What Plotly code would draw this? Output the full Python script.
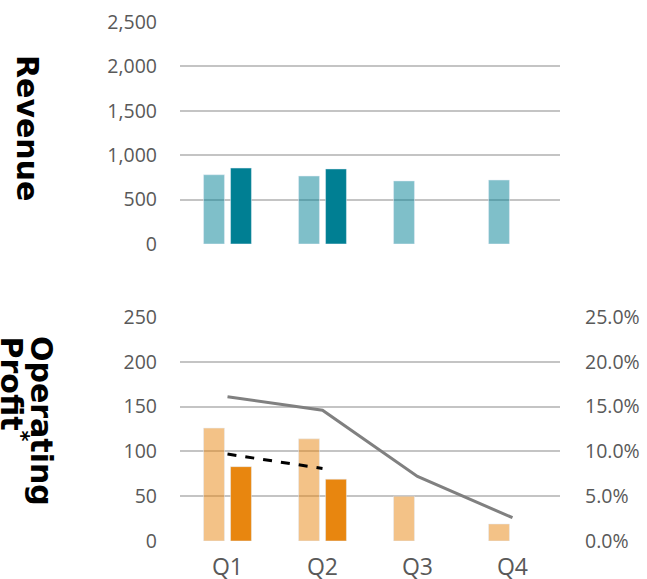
import plotly.graph_objects as go

quarters = ["Q1", "Q2", "Q3", "Q4"]
revenue_prev = [780, 765, 710, 720]
revenue_curr = [855, 845, None, None]
op_prev = [126, 114, 50, 19]
op_curr = [83, 69, None, None]
margin_prev = [0.161, 0.146, 0.072, 0.026]
margin_curr = [0.097, 0.081, None, None]

rev_ticks = [0, 500, 1000, 1500, 2000, 2500]
op_ticks = [0, 50, 100, 150, 200, 250]
pct_ticks = [0, 0.05, 0.10, 0.15, 0.20, 0.25]

TEAL = "rgba(0,127,147,1)"
TEAL_L = "rgba(0,127,147,0.5)"
ORANGE = "rgba(232,134,15,1)"
ORANGE_L = "rgba(232,134,15,0.5)"
GRID = "#c4c4c4"
TICKFONT = dict(family="Open Sans, Segoe UI, sans-serif", size=19.5, color="#595959")

fig = go.Figure()
fig.add_trace(go.Bar(x=quarters, y=revenue_prev, marker_color=TEAL_L, xaxis="x", yaxis="y",
                     offsetgroup="a", showlegend=False))
fig.add_trace(go.Bar(x=quarters, y=revenue_curr, marker_color=TEAL, xaxis="x", yaxis="y",
                     offsetgroup="b", showlegend=False))
fig.add_trace(go.Bar(x=quarters, y=op_prev, marker_color=ORANGE_L, xaxis="x2", yaxis="y2",
                     offsetgroup="a", showlegend=False))
fig.add_trace(go.Bar(x=quarters, y=op_curr, marker_color=ORANGE, xaxis="x2", yaxis="y2",
                     offsetgroup="b", showlegend=False))
fig.add_trace(go.Scatter(x=quarters, y=margin_prev, mode="lines", xaxis="x2", yaxis="y3",
                         line=dict(color="#808080", width=3), showlegend=False))
fig.add_trace(go.Scatter(x=quarters, y=margin_curr, mode="lines", xaxis="x2", yaxis="y3",
                         line=dict(color="#000000", width=3, dash="dash"), showlegend=False))

yax_common = dict(showgrid=True, gridcolor=GRID, gridwidth=2, zeroline=False, showline=False,
                  tickfont=TICKFONT, ticklabelstandoff=22, fixedrange=True, automargin=False)

pw = 647 - 180 - 87
ph = 579 - 22 - 38


def px_x(v):
    return (v - 180) / pw


def px_y(v):
    return 1 - (v - 22) / ph


TITLEFONT = dict(family="DejaVu Sans", size=30, color="black")

fig.update_layout(
    width=647, height=579,
    margin=dict(l=180, r=87, t=22, b=38),
    paper_bgcolor="white", plot_bgcolor="white",
    barmode="group", bargap=0.432, bargroupgap=0.225,
    xaxis=dict(domain=[0, 1], anchor="y", showticklabels=False, showgrid=False,
               zeroline=False, range=[-0.5, 3.5], automargin=False),
    xaxis2=dict(domain=[0, 1], anchor="y2", showgrid=False, zeroline=False,
                range=[-0.5, 3.5], automargin=False,
                tickfont=dict(family="Open Sans, Segoe UI, sans-serif", size=23, color="#595959"),
                ticklabelstandoff=10),
    yaxis=dict(domain=[0.5723, 1], range=[0, 2500], tickvals=rev_ticks,
               tickformat=",d", **yax_common),
    yaxis2=dict(domain=[0, 0.4316], range=[0, 250], tickvals=op_ticks, **yax_common),
    yaxis3=dict(overlaying="y2", side="right", range=[0, 0.25], tickvals=pct_ticks,
                tickformat=".1%", showgrid=False, zeroline=False, showline=False,
                tickfont=TICKFONT, ticklabelstandoff=24, fixedrange=True, anchor="x2",
                automargin=False),
    annotations=[
        dict(text="<b>Revenue</b>", textangle=90, x=px_x(28), y=px_y(53), xref="paper",
             yref="paper", xanchor="center", yanchor="top", showarrow=False, font=TITLEFONT),
        dict(text="<b>Operating</b>", textangle=90, x=px_x(42), y=px_y(334), xref="paper",
             yref="paper", xanchor="center", yanchor="top", showarrow=False, font=TITLEFONT),
        dict(text="<b>Profit<sup>*</sup></b>", textangle=90, x=px_x(13), y=px_y(334),
             xref="paper", yref="paper", xanchor="center", yanchor="top", showarrow=False,
             font=TITLEFONT),
    ],
)

fig.write_html("out.html")
